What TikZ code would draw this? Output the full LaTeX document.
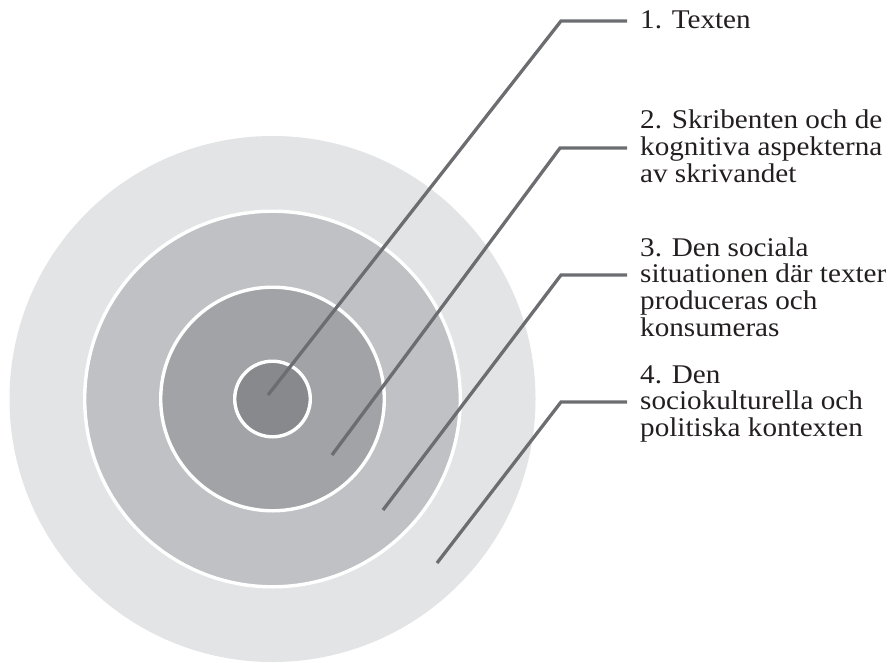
\documentclass[tikz,border=0pt]{standalone}
\usepackage{fontspec}
\setmainfont[FakeStretch=1.08]{Liberation Serif}
\definecolor{ringA}{HTML}{E3E4E6}
\definecolor{ringB}{HTML}{C0C1C4}
\definecolor{ringC}{HTML}{A2A3A7}
\definecolor{ringD}{HTML}{88898D}
\definecolor{leader}{HTML}{6C6D70}
\definecolor{ink}{HTML}{231F20}
\tikzset{
  disc/.style={fill=#1, draw=white, line width=3.4pt},
  leaderline/.style={draw=leader, line width=3.3pt, line cap=butt, line join=miter},
  label/.style={anchor=base west, inner sep=0pt, text=ink,
    font=\fontsize{27}{26.5}\selectfont}
}
\newcommand{\lbltab}[1]{\begin{tabular}[t]{@{}l@{}}#1\end{tabular}}
\begin{document}
\begin{tikzpicture}[x=1pt, y=-1pt]
  \useasboundingbox (0,0) rectangle (893,663);
  % concentric discs
  \coordinate (c) at (272.5,399);
  \fill[ringA] (c) circle[radius=263pt];
  \path[disc=ringB] (c) circle[radius=187.8pt];
  \path[disc=ringC] (c) circle[radius=111.8pt];
  \path[disc=ringD] (c) circle[radius=37.8pt];

  % labels
  \node[label] (t1) at (640,29) {\lbltab{1. Texten}};
  \node[label] (t2) at (640,129) {\lbltab{2. Skribenten och de\\kognitiva aspekterna\\av skrivandet}};
  \node[label] (t3) at (640,256) {\lbltab{3. Den sociala\\situationen där texter\\produceras och\\konsumeras}};
  \node[label] (t4) at (640,383) {\lbltab{4. Den\\sociokulturella och\\politiska kontexten}};

  % leader line points
  \coordinate (e1) at (268,395);   \coordinate (b1) at (561,21);  \coordinate (h1) at (627,21);
  \coordinate (e2) at (332,455);   \coordinate (b2) at (560,148); \coordinate (h2) at (627,148);
  \coordinate (e3) at (383,510);   \coordinate (b3) at (561,275); \coordinate (h3) at (627,275);
  \coordinate (e4) at (437,563);   \coordinate (b4) at (561,402); \coordinate (h4) at (627,402);

  \draw[leaderline] (e1) -- (b1) -- (h1);
  \draw[leaderline] (e2) -- (b2) -- (h2);
  \draw[leaderline] (e3) -- (b3) -- (h3);
  \draw[leaderline] (e4) -- (b4) -- (h4);
\end{tikzpicture}
\end{document}
